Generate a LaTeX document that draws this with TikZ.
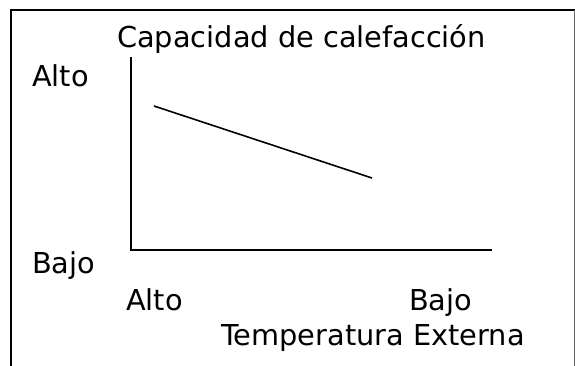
\documentclass[tikz,border=0pt]{standalone}
\usepackage{fontspec}
\setmainfont{DejaVu Sans}
\tikzset{lbl/.style={anchor=base west,inner sep=0pt,font=\fontsize{28.8}{32}\selectfont}}
\begin{document}
\begin{tikzpicture}[x=1pt,y=-1pt]
        \useasboundingbox (0,0) rectangle (575,365);
        \draw[line width=1.5pt] (11,366) -- (11,10) -- (575,10);
        \draw[line width=1pt,black!60] (574.5,10) -- (574.5,366);
        \draw[line width=2pt] (131,57) -- (131,250) -- (492,250);
        \draw[line width=1.6pt] (154,106) -- (372,178);
        \node[lbl] (titulo) at (117,47) {Capacidad de calefacción};
        \node[lbl] (altoy) at (32,86) {Alto};
        \node[lbl] (bajoy) at (32,273) {Bajo};
        \node[lbl] (altox) at (126,310) {Alto};
        \node[lbl] (bajox) at (409,310) {Bajo};
        \node[lbl] (temp) at (221,345) {Temperatura Externa};
    \end{tikzpicture}
\end{document}
